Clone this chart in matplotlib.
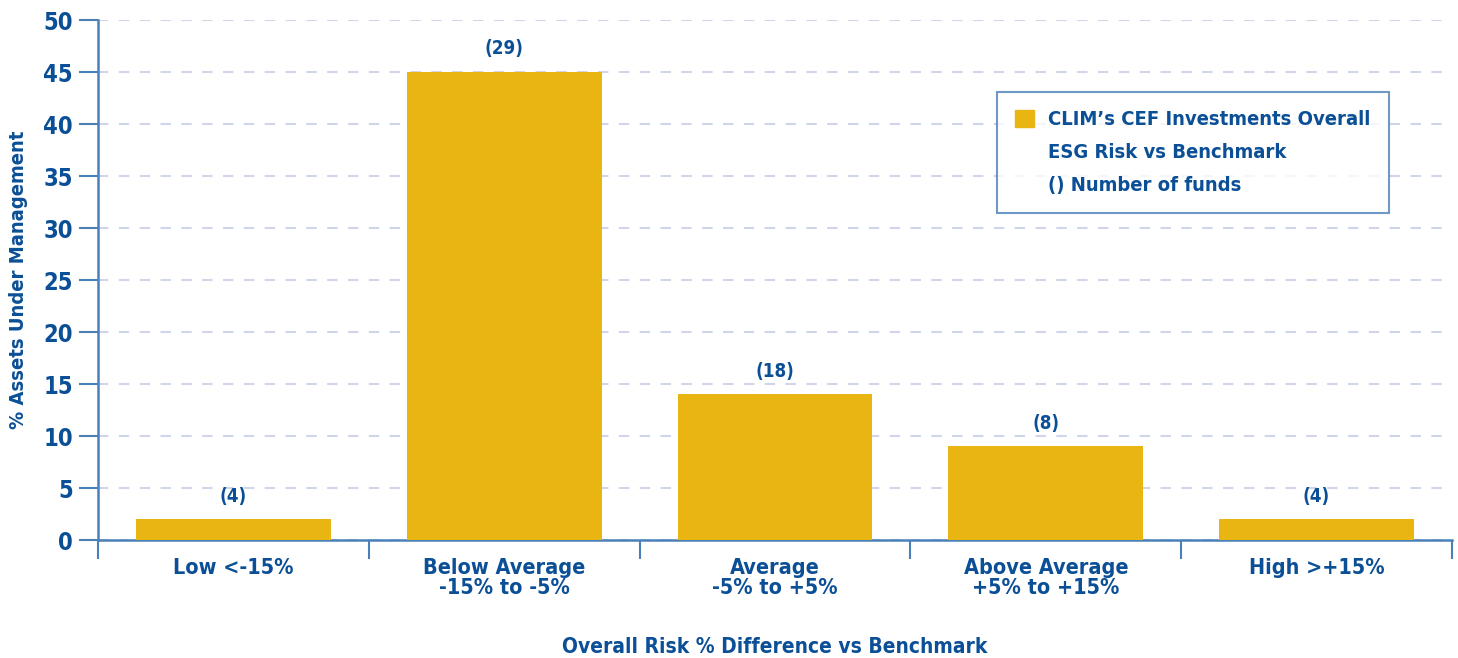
import matplotlib
matplotlib.use('Agg')
import matplotlib.pyplot as plt
from matplotlib.patches import Patch
from matplotlib.ticker import FixedLocator, NullFormatter

categories = ['Low <-15%', 'Below Average\n-15% to -5%', 'Average\n-5% to +5%',
              'Above Average\n+5% to +15%', 'High >+15%']
aum_pct = [2, 45, 14, 9, 2]
fund_counts = ['(4)', '(29)', '(18)', '(8)', '(4)']
legend_lines = ['CLIM\u2019s CEF Investments Overall', 'ESG Risk vs Benchmark',
                '() Number of funds']

BAR = '#E8B512'
TEXT = '#0B4F96'
AXIS = '#4A80B8'
GRID = '#D0D6E8'

plt.rcParams['font.family'] = ['DejaVu Sans']
plt.rcParams['font.stretch'] = 'condensed'
plt.rcParams['font.weight'] = 'bold'

fig = plt.figure(figsize=(14.58, 6.58), dpi=100)
ax = fig.add_axes([98 / 1458, 1 - 540 / 658, 1354 / 1458, 520 / 658])

x = list(range(len(categories)))
bars = ax.bar(x, aum_pct, width=0.72, color=BAR, zorder=3)
for rect, lab in zip(bars, fund_counts):
    ax.text(rect.get_x() + rect.get_width() / 2, rect.get_height() + 1.3, lab,
            ha='center', va='bottom', color=TEXT, fontsize=13.5, fontweight='bold')

ax.set_xlim(-0.5, len(categories) - 0.5)
ax.set_ylim(0, 50)
ax.set_yticks(range(0, 51, 5))
ax.xaxis.set_major_locator(FixedLocator([i - 0.5 for i in range(len(categories) + 1)]))
ax.xaxis.set_major_formatter(NullFormatter())
ax.xaxis.set_minor_locator(FixedLocator(x))
ax.set_xticklabels(categories, minor=True)

ax.tick_params(axis='x', which='major', direction='out', length=14, width=1.5, color=AXIS)
ax.tick_params(axis='x', which='minor', length=0, pad=13, labelsize=15.5, labelcolor=TEXT)
ax.tick_params(axis='y', direction='out', length=14, width=1.5, color=AXIS,
               labelsize=17, labelcolor=TEXT, pad=4)
for lab in ax.get_xticklabels(minor=True) + ax.get_yticklabels():
    lab.set_fontweight('bold')
for lab in ax.get_xticklabels(minor=True):
    lab.set_linespacing(1.0)

for side in ['top', 'right']:
    ax.spines[side].set_visible(False)
for side in ['left', 'bottom']:
    ax.spines[side].set_color(AXIS)
    ax.spines[side].set_linewidth(1.8)

ax.yaxis.grid(True, color=GRID, linestyle=(0, (5, 5)), linewidth=1.5, zorder=0)
ax.set_axisbelow(True)

ax.set_ylabel('% Assets Under Management', color=TEXT, fontsize=14.5, fontweight='bold')
ax.yaxis.set_label_coords(-0.052, 0.5)
fig.text(775 / 1458, 1 - 647 / 658, 'Overall Risk % Difference vs Benchmark',
         ha='center', va='center', color=TEXT, fontsize=15, fontweight='bold')

handles = [Patch(color=BAR), Patch(color='none'), Patch(color='none')]
leg = ax.legend(handles, legend_lines, loc='upper left', bbox_to_anchor=(0.664, 0.862),
                frameon=True, fancybox=False, fontsize=14.5, handlelength=0.95,
                handleheight=0.95, handletextpad=0.7, labelspacing=0.66,
                borderpad=0.9, borderaxespad=0)
leg.get_frame().set_edgecolor(AXIS)
leg.get_frame().set_linewidth(1.5)
for t in leg.get_texts():
    t.set_color(TEXT)
    t.set_fontweight('bold')

fig.savefig('out.png', dpi=100)
